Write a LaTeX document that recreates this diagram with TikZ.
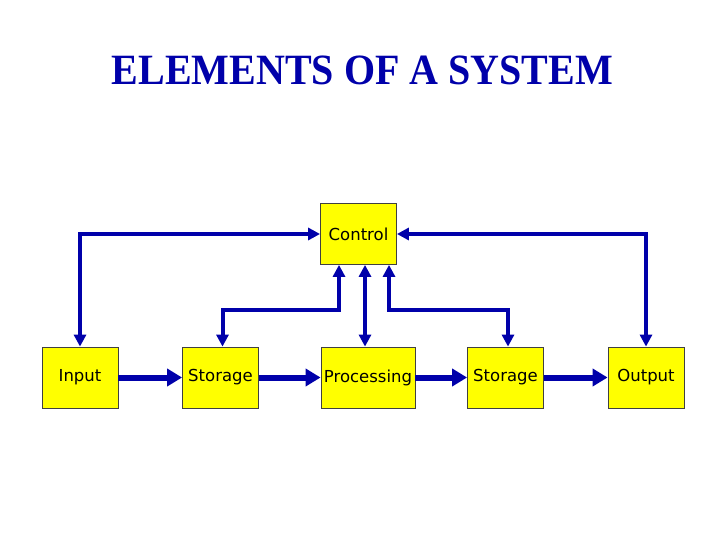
\documentclass[tikz,border=0pt]{standalone}
\usepackage{fontspec}
\setmainfont{Liberation Serif}
\newfontfamily\boxfont{DejaVu Sans}
\usetikzlibrary{arrows.meta}
\definecolor{sysblue}{RGB}{0,0,170}
\definecolor{sysyellow}{RGB}{255,255,0}
\begin{document}
\begin{tikzpicture}[x=1pt,y=-1pt,
    block/.style={draw=black!75, fill=sysyellow, line width=0.8pt, minimum width=76pt, minimum height=61pt, inner sep=0pt, font=\boxfont\fontsize{16.5}{19}\selectfont},
    flow/.style={draw=sysblue, line width=6pt, -{Triangle[length=15pt,width=17pt]}},
    fb/.style={draw=sysblue, line width=4pt, {Triangle[length=12pt,width=12pt]}-{Triangle[length=12pt,width=12pt]}}]
        \useasboundingbox (0,0) rectangle (720,540);
        \node[anchor=base, text=sysblue, font=\bfseries\fontsize{40}{48}\selectfont, yscale=1.08] (title) at (362.5,85) {ELEMENTS OF A SYSTEM};
        \node[block] (control) at (358.5,234) {Control};
        \node[block] (input) at (80,377.5) {Input};
        \node[block] (storage1) at (220.5,377.5) {Storage};
        \node[block, minimum width=94pt] (processing) at (368,377.5) {Processing};
        \node[block] (storage2) at (505.5,377.5) {Storage};
        \node[block] (output) at (646,377.5) {Output};
        \draw[flow] (input) -- (storage1);
        \draw[flow] (storage1) -- (processing);
        \draw[flow] (processing) -- (storage2);
        \draw[flow] (storage2) -- (output);
        \draw[fb] (input.north) |- (control.west);
        \draw[fb] (output.north) |- (control.east);
        \draw[fb] ([xshift=-19.5pt]control.south) |- ([xshift=2pt,yshift=37pt]storage1.north) -- ([xshift=2pt]storage1.north);
        \draw[fb] ([xshift=6.5pt]control.south) -- ([xshift=6.5pt]control.south |- processing.north);
        \draw[fb] ([xshift=30.5pt]control.south) |- ([xshift=2.5pt,yshift=37pt]storage2.north) -- ([xshift=2.5pt]storage2.north);
      \end{tikzpicture}
\end{document}
